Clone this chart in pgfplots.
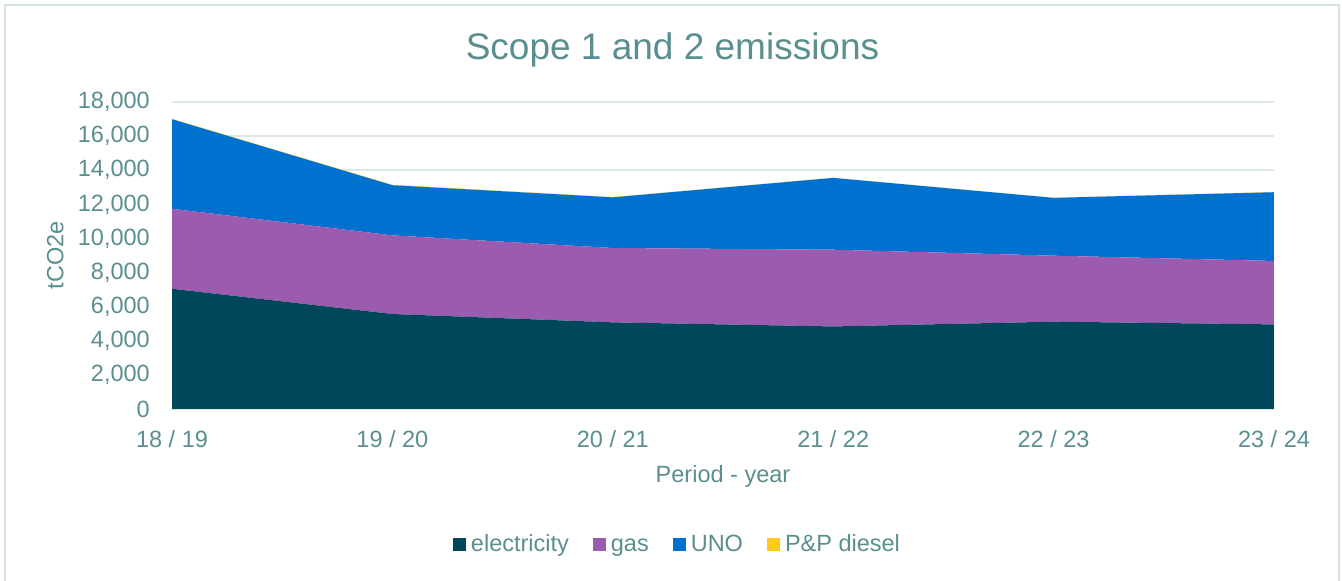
\documentclass[border=0pt]{standalone}
\usepackage{pgfplots}
\pgfplotsset{compat=1.18}
\usepackage{fontspec}
\setmainfont{Liberation Sans}
\definecolor{elec}{HTML}{00475B}
\definecolor{gasc}{HTML}{9B5BAF}
\definecolor{unoc}{HTML}{0071CE}
\definecolor{dsl}{HTML}{FFCA1C}
\definecolor{txt}{HTML}{5B8F8F}
\definecolor{gridc}{HTML}{DCE8E8}
\definecolor{brd}{HTML}{D3E2E2}
\newcommand\fs{\fontsize{23.5bp}{28bp}\selectfont}
\begin{document}
\begin{tikzpicture}
\useasboundingbox (0,0) rectangle (1342bp,581bp);
\fill[white] (0,0) rectangle (1342bp,581bp);
\draw[brd, line width=1.5bp] (5bp,0) -- (5bp,576bp) -- (1339bp,576bp) -- (1339bp,0);
\node[txt, anchor=base, inner sep=0pt, font=\fontsize{37bp}{44bp}\selectfont] at (672.5bp,521bp) {Scope 1 and 2 emissions};
\begin{axis}[
  at={(172bp,172bp)}, anchor=south west,
  scale only axis, width=1102bp, height=307bp,
  xmin=0, xmax=5, ymin=0, ymax=18000,
  stack plots=y,
  xtick={0,1,2,3,4,5},
  xticklabels={18 / 19,19 / 20,20 / 21,21 / 22,22 / 23,23 / 24},
  ytick={0,2000,4000,6000,8000,10000,12000,14000,16000,18000},
  scaled ticks=false,
  /pgf/number format/.cd, 1000 sep={,}, fixed, assume math mode=true, /pgfplots/.cd,
  ymajorgrids, grid style={gridc, line width=1.5bp},
  axis line style={draw=none},
  major tick length=0pt,
  tick label style={txt, font=\fs},
  yticklabel style={anchor=east, inner sep=0pt, xshift=-22bp},
  xticklabel style={anchor=north, inner sep=0pt, yshift=-21bp},
  xlabel={Period - year}, ylabel={tCO2e},
  label style={txt, font=\fs, inner sep=0pt},
  xlabel style={at={(axis description cs:0.5,-0.218)}, anchor=center},
  ylabel style={at={(axis description cs:-0.106,0.5)}, anchor=center},
  legend columns=-1,
  legend style={at={(axis description cs:0.4578,-0.443)}, anchor=center, draw=none, fill=none,
    font=\fs, text=txt, inner sep=0pt,
    /tikz/every even column/.append style={column sep=24bp},
    nodes={inner sep=0pt, anchor=base west, text height=17bp, text depth=5bp}},
  legend image code/.code={\fill[#1] (0bp,0bp) rectangle (13bp,13bp); \path (18bp,0bp);},
]
\addplot[fill=elec, draw=none] coordinates {(0,7050) (1,5570) (2,5080) (3,4840) (4,5120) (5,4960)} \closedcycle;
\addlegendentry{electricity}
\addplot[fill=gasc, draw=none] coordinates {(0,4690) (1,4610) (2,4360) (3,4500) (4,3870) (5,3720)} \closedcycle;
\addlegendentry{gas}
\addplot[fill=unoc, draw=none] coordinates {(0,5250) (1,2940) (2,2970) (3,4210) (4,3390) (5,4030)} \closedcycle;
\addlegendentry{UNO}
\addplot[fill=dsl, draw=none] coordinates {(0,30) (1,30) (2,20) (3,10) (4,10) (5,10)} \closedcycle;
\addlegendentry{P\&P diesel}
\end{axis}
\end{tikzpicture}
\end{document}
